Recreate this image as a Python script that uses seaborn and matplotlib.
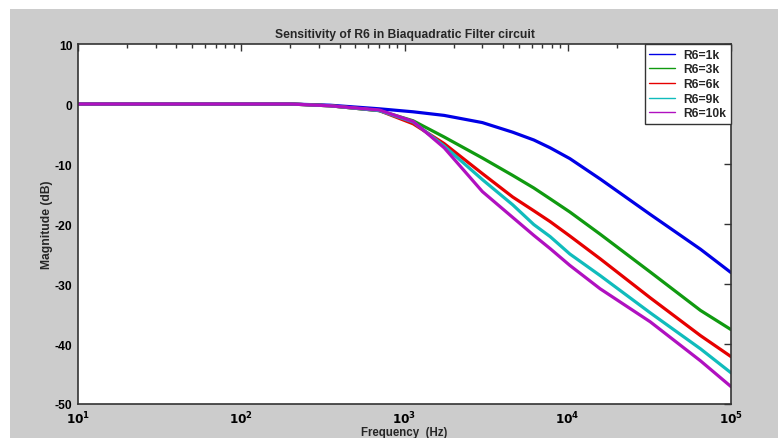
import numpy as np
import pandas as pd
import seaborn as sns
import matplotlib.pyplot as plt
from matplotlib.patches import Rectangle
from matplotlib.lines import Line2D
from matplotlib.ticker import FixedLocator, FixedFormatter, LogLocator, NullFormatter

# Data (frequency in Hz, magnitude in dB)
freq = [10, 100, 200, 350, 700, 1130, 1750, 3000, 4600, 6200, 7800,
        10300, 15800, 32000, 65000, 100000]
mag_1k = [0, 0, 0, -0.2, -0.8, -1.3, -1.9, -3.1, -4.7, -6.0, -7.3,
          -9.1, -12.5, -18.4, -24.2, -28.1]
mag_3k = [0, 0, 0, -0.3, -1.1, -2.8, -5.5, -9.0, -11.9, -14.0, -15.8,
          -18.0, -21.7, -28.0, -34.4, -37.6]
mag_6k = [0, 0, 0, -0.3, -1.1, -3.3, -6.6, -11.6, -15.5, -17.8, -19.6,
          -22.0, -25.8, -32.3, -38.6, -42.1]
mag_9k = [0, 0, 0, -0.3, -1.1, -3.0, -7.0, -12.6, -16.8, -20.1, -22.1,
          -25.0, -28.6, -34.8, -40.8, -44.8]
mag_10k = [0, 0, 0, -0.3, -1.0, -2.9, -7.3, -14.6, -18.9, -21.9, -24.1,
           -26.9, -30.8, -36.3, -42.8, -47.1]

labels = ['R6=1k', 'R6=3k', 'R6=6k', 'R6=9k', 'R6=10k']
colors = ['#0000e6', '#109a10', '#e60000', '#10bcbc', '#b010c0']
yticks = [-50, -40, -30, -20, -10, 0, 10]
xticks = [1e1, 1e2, 1e3, 1e4, 1e5]
xtick_labels = [r'$\mathbf{10^{1}}$', r'$\mathbf{10^{2}}$', r'$\mathbf{10^{3}}$',
                r'$\mathbf{10^{4}}$', r'$\mathbf{10^{5}}$']

rows = []
for lab, vals in zip(labels, [mag_1k, mag_3k, mag_6k, mag_9k, mag_10k]):
    for f, m in zip(freq, vals):
        rows.append({'freq': f, 'mag': m, 'R6': lab})
df = pd.DataFrame(rows)

sns.set_style('white')
plt.rcParams['font.family'] = ['Liberation Sans', 'DejaVu Sans']
plt.rcParams['font.weight'] = 'bold'
plt.rcParams['axes.unicode_minus'] = False

fig = plt.figure(figsize=(7.78, 4.39), dpi=100, facecolor='white')
# grey matlab-like figure background (white strip at top/left)
fig.patches.append(Rectangle((10 / 778, 0), 1, (439 - 10) / 439,
                             transform=fig.transFigure, facecolor='#cccccc',
                             edgecolor='none', zorder=-10))

ax = fig.add_axes([78 / 778, 1 - 405 / 439, (731 - 78) / 778, (405 - 45) / 439])
ax.set_facecolor('white')

sns.lineplot(data=df, x='freq', y='mag', hue='R6', palette=colors,
             linewidth=2.3, ax=ax, legend=False)

ax.set_xscale('log')
ax.set_xlim(10, 1e5)
ax.set_ylim(-50, 10)
ax.xaxis.set_major_locator(FixedLocator(xticks))
ax.xaxis.set_major_formatter(FixedFormatter(xtick_labels))
ax.xaxis.set_minor_locator(LogLocator(base=10, subs=np.arange(2, 10)))
ax.xaxis.set_minor_formatter(NullFormatter())
ax.set_yticks(yticks)
ax.tick_params(axis='both', which='both', direction='in', top=True, right=True,
               labelsize=8.7, colors='#333333', labelcolor='black')
ax.tick_params(axis='both', which='major', length=5, width=1)
ax.tick_params(axis='y', which='major', pad=4)
ax.tick_params(axis='x', which='major', pad=4)
ax.tick_params(axis='x', which='minor', length=3, width=1)
for lbl in ax.get_yticklabels():
    lbl.set_fontweight('bold')
for sp in ax.spines.values():
    sp.set_color('#333333')
    sp.set_linewidth(1.2)

ax.set_title('Sensitivity of R6 in Biaquadratic Filter circuit',
             fontsize=8.7, fontweight='bold', pad=5)
ax.set_xlabel('Frequency  (Hz)', fontsize=8.3, fontweight='bold')
ax.set_ylabel('Magnitude (dB)', fontsize=8.7, fontweight='bold')
ax.xaxis.set_label_coords(0.5, -0.061, transform=ax.transAxes)
ax.yaxis.set_label_coords(-0.038, 0.5, transform=ax.transAxes)

handles = [Line2D([0], [0], color=c, linewidth=1) for c in colors]
leg = ax.legend(handles, labels, loc='upper right', fontsize=8.7,
                frameon=True, fancybox=False, framealpha=1,
                borderaxespad=0, handlelength=2.1, handletextpad=0.7,
                labelspacing=0.22, borderpad=0.4)
leg.get_frame().set_edgecolor('#333333')
leg.get_frame().set_linewidth(1)
for t in leg.get_texts():
    t.set_fontweight('bold')

fig.savefig('out.png', dpi=100, facecolor=fig.get_facecolor())
